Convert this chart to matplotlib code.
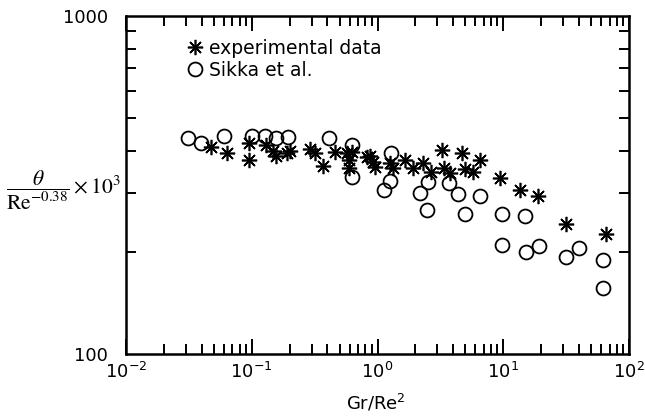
import matplotlib
matplotlib.use("Agg")
import matplotlib.pyplot as plt
from matplotlib.ticker import LogLocator, NullFormatter, FixedLocator, FixedFormatter

# Experimental data (asterisks)
exp_x = [0.047, 0.064, 0.095, 0.095, 0.13, 0.148, 0.155, 0.20, 0.19, 0.29, 0.318,
         0.37, 0.46, 0.575, 0.59, 0.59, 0.63, 0.83, 0.87, 0.92, 0.95, 1.26, 1.33,
         1.66, 1.93, 2.30, 2.65, 3.28, 3.35, 3.8, 4.7, 5.0, 5.7, 6.5, 9.45, 13.5,
         19.0, 31.5, 66.0]
exp_y = [410, 392, 421, 375, 414, 400, 385, 400, 392, 403, 394,
         359, 395, 392, 375, 355, 396, 383, 384, 370, 357, 367, 355,
         375, 356, 367, 345, 401, 354, 344, 392, 353, 346, 374, 331, 305,
         294, 242, 226]

# Sikka et al. (open circles)
sik_x = [0.0313, 0.0398, 0.0603, 0.100, 0.128, 0.157, 0.194, 0.408, 0.631, 0.631,
         1.28, 1.26, 1.12, 2.18, 2.53, 2.49, 3.69, 4.39, 4.92, 6.50, 9.84, 9.84,
         15.0, 15.1, 19.4, 31.3, 39.8, 61.7, 61.7]
sik_y = [435, 421, 443, 442, 442, 435, 440, 437, 414, 333,
         394, 325, 306, 299, 322, 267, 321, 298, 260, 293, 259, 210,
         256, 201, 208, 194, 206, 190, 157]

series_labels = ["experimental data", "Sikka et al."]
x_label = "Gr/Re$^2$"
y_label = r"$\dfrac{\theta}{\mathrm{Re}^{-0.38}}\times10^{3}$"

plt.rcParams['font.family'] = ['DejaVu Sans']
plt.rcParams['mathtext.fontset'] = 'dejavusans'

fig = plt.figure(figsize=(6.45, 4.19), dpi=100)
ax = fig.add_axes([126/645, 1-354/419, 503/645, 338/419])

ax.set_xscale('log')
ax.set_yscale('log')
ax.set_xlim(1e-2, 1e2)
ax.set_ylim(100, 1000)

ax.plot(exp_x, exp_y, linestyle='none', marker=(8, 2, 0), markersize=11,
        markeredgewidth=1.2, color='black', label=series_labels[0])
ax.plot(sik_x, sik_y, linestyle='none', marker='o', markersize=10,
        markerfacecolor='none', markeredgecolor='black', markeredgewidth=1.3,
        label=series_labels[1])

for s in ax.spines.values():
    s.set_linewidth(1.8)

ax.xaxis.set_major_locator(LogLocator(base=10, numticks=10))
ax.xaxis.set_minor_locator(LogLocator(base=10, subs=range(2, 10), numticks=20))
ax.xaxis.set_minor_formatter(NullFormatter())
ax.yaxis.set_major_locator(FixedLocator([100, 1000]))
ax.yaxis.set_major_formatter(FixedFormatter(['100', '1000']))
ax.yaxis.set_minor_locator(FixedLocator([200, 300, 400, 500, 600, 700, 800, 900]))
ax.yaxis.set_minor_formatter(NullFormatter())

ax.tick_params(which='both', direction='in', top=True, right=True, width=1.4,
               labelsize=13)
ax.tick_params(which='major', length=11)
ax.tick_params(which='minor', length=7)
ax.tick_params(axis='y', which='major', length=0, pad=13)
ax.tick_params(axis='x', which='major', pad=6)

leg = ax.legend(loc='upper left', bbox_to_anchor=(0.105, 0.955), frameon=False,
                fontsize=13.5, handlelength=0.9, handletextpad=0.3,
                labelspacing=0.15, borderaxespad=0)

fig.text(376/645, 1-403/419, x_label, ha='center', va='center', fontsize=13)
fig.text(6/645, 1-190/419, y_label, ha='left', va='center', fontsize=15.5,
         math_fontfamily='stix')

fig.savefig('out.png', dpi=100)
